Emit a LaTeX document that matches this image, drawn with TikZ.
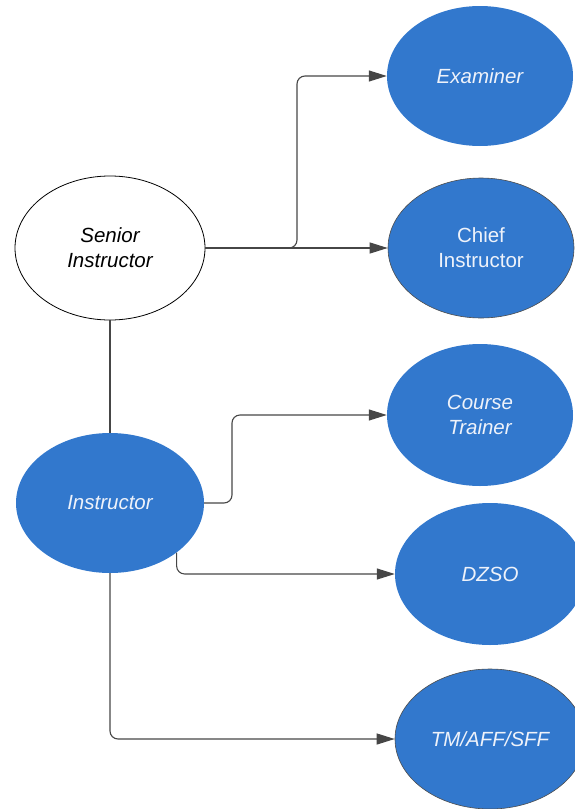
\documentclass[tikz,border=0pt]{standalone}
\usepackage{fontspec}
\setmainfont{Liberation Sans}
\usetikzlibrary{shapes.geometric,arrows.meta}
\definecolor{nodeblue}{RGB}{50,120,205}
\definecolor{linegray}{RGB}{70,70,70}
\definecolor{txtwhite}{RGB}{238,242,250}
\begin{document}
\begin{tikzpicture}[x=1pt,y=-1pt,
  oval/.style={ellipse,inner sep=0pt,align=center,
    font=\fontsize{20.5}{25}\selectfont},
  bluenode/.style={oval,fill=nodeblue,text=txtwhite},
  conn/.style={draw=linegray,line width=1.1pt,rounded corners=8pt},
  arr/.style={conn,-{Triangle[length=18pt,width=11pt]}}]
\useasboundingbox (0,0) rectangle (574,809);
\node[oval,draw=black,line width=0.8pt,fill=white,minimum width=190pt,minimum height=144pt] (senior) at (110,248) {\itshape Senior\\\itshape Instructor};
\node[bluenode,minimum width=186pt,minimum height=140pt] (examiner) at (480,76) {\itshape Examiner};
\node[bluenode,draw=black!70,line width=0.6pt,minimum width=186pt,minimum height=140pt] (chief) at (481,248) {Chief\\Instructor};
\node[bluenode,minimum width=186pt,minimum height=142pt] (course) at (480,415) {\itshape Course\\\itshape Trainer};
\node[bluenode,minimum width=188pt,minimum height=140pt] (instr) at (110,503) {\itshape Instructor};
\node[bluenode,minimum width=190pt,minimum height=142pt] (dzso) at (490,574) {\itshape DZSO};
\node[bluenode,draw=black!70,line width=0.6pt,minimum width=190pt,minimum height=140pt] (tm) at (490,739) {\itshape TM/AFF/SFF};
\coordinate (j1) at (297,248);
\coordinate (j2) at (232,503);
\draw[arr] (senior.east) -- (chief.west);
\draw[arr] (senior.east) -- (j1) |- (examiner.west);
\draw[conn] (senior.south) -- (instr.north);
\draw[arr] (instr.east) -- (j2) |- (course.west);
\draw[arr] (instr.south east) |- (dzso.west);
\draw[arr] (instr.south) |- (tm.west);
\end{tikzpicture}
\end{document}
